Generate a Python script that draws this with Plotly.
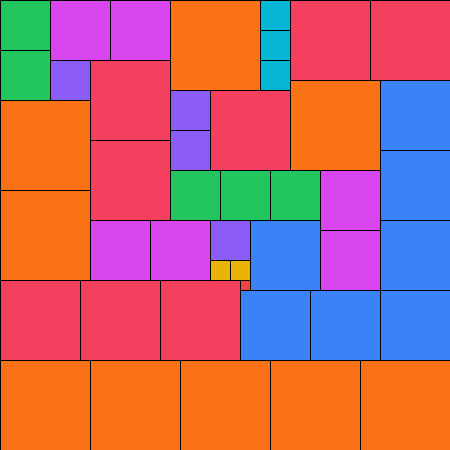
import plotly.graph_objects as go

# squares of side n, n copies each (1^3 + 2^3 + ... + 9^3 = 45^2)
# positions are the top-left corner of each square, in grid units
sizes = [9, 8, 7, 6, 5, 4, 3, 2, 1]
cols = {
    9: [17, 0, 0, 29, 0, 9, 18, 27, 36],
    8: [29, 37, 9, 9, 21, 0, 8, 16],
    7: [38, 38, 38, 25, 24, 31, 38],
    6: [5, 11, 32, 32, 9, 15],
    5: [0, 0, 17, 22, 27],
    4: [5, 17, 17, 21],
    3: [26, 26, 26],
    2: [21, 23],
    1: [24],
}
rows = {
    9: [0, 10, 19, 8, 36, 36, 36, 36, 36],
    8: [0, 0, 6, 14, 9, 28, 28, 28],
    7: [8, 15, 22, 22, 29, 29, 29],
    6: [0, 0, 17, 23, 22, 22],
    5: [0, 5, 17, 17, 17],
    4: [6, 9, 13, 22],
    3: [0, 3, 6],
    2: [26, 26],
    1: [28],
}
colors = {
    9: '#F97316', 8: '#F43F5E', 7: '#3B82F6', 6: '#D946EF', 5: '#22C55E',
    4: '#8B5CF6', 3: '#06B6D4', 2: '#EAB308', 1: '#EF4444',
}

total = sum(sizes)

fig = go.Figure()
for n in sizes:
    xs, ys = [], []
    for c, r in zip(cols[n], rows[n]):
        xs += [c, c + n, c + n, c, c, None]
        ys += [r, r, r + n, r + n, r, None]
    fig.add_trace(go.Scatter(
        x=xs, y=ys, mode='lines', fill='toself',
        fillcolor=colors[n], line=dict(color='#000000', width=1),
        hoverinfo='skip', showlegend=False,
    ))

# half-pixel offset so the 1px outlines land crisply on pixel rows/columns
off = 0.05
fig.update_xaxes(range=[-off, total - off], visible=False, fixedrange=True)
fig.update_yaxes(range=[total - off, -off], visible=False, fixedrange=True)
fig.update_layout(
    width=450, height=450,
    margin=dict(l=0, r=0, t=0, b=0),
    paper_bgcolor='white', plot_bgcolor='white',
)

# drop the page's default body margin so the chart fills the window
fig.write_html("out.html", config={'displayModeBar': False},
               post_script="document.body.style.margin='0';")
